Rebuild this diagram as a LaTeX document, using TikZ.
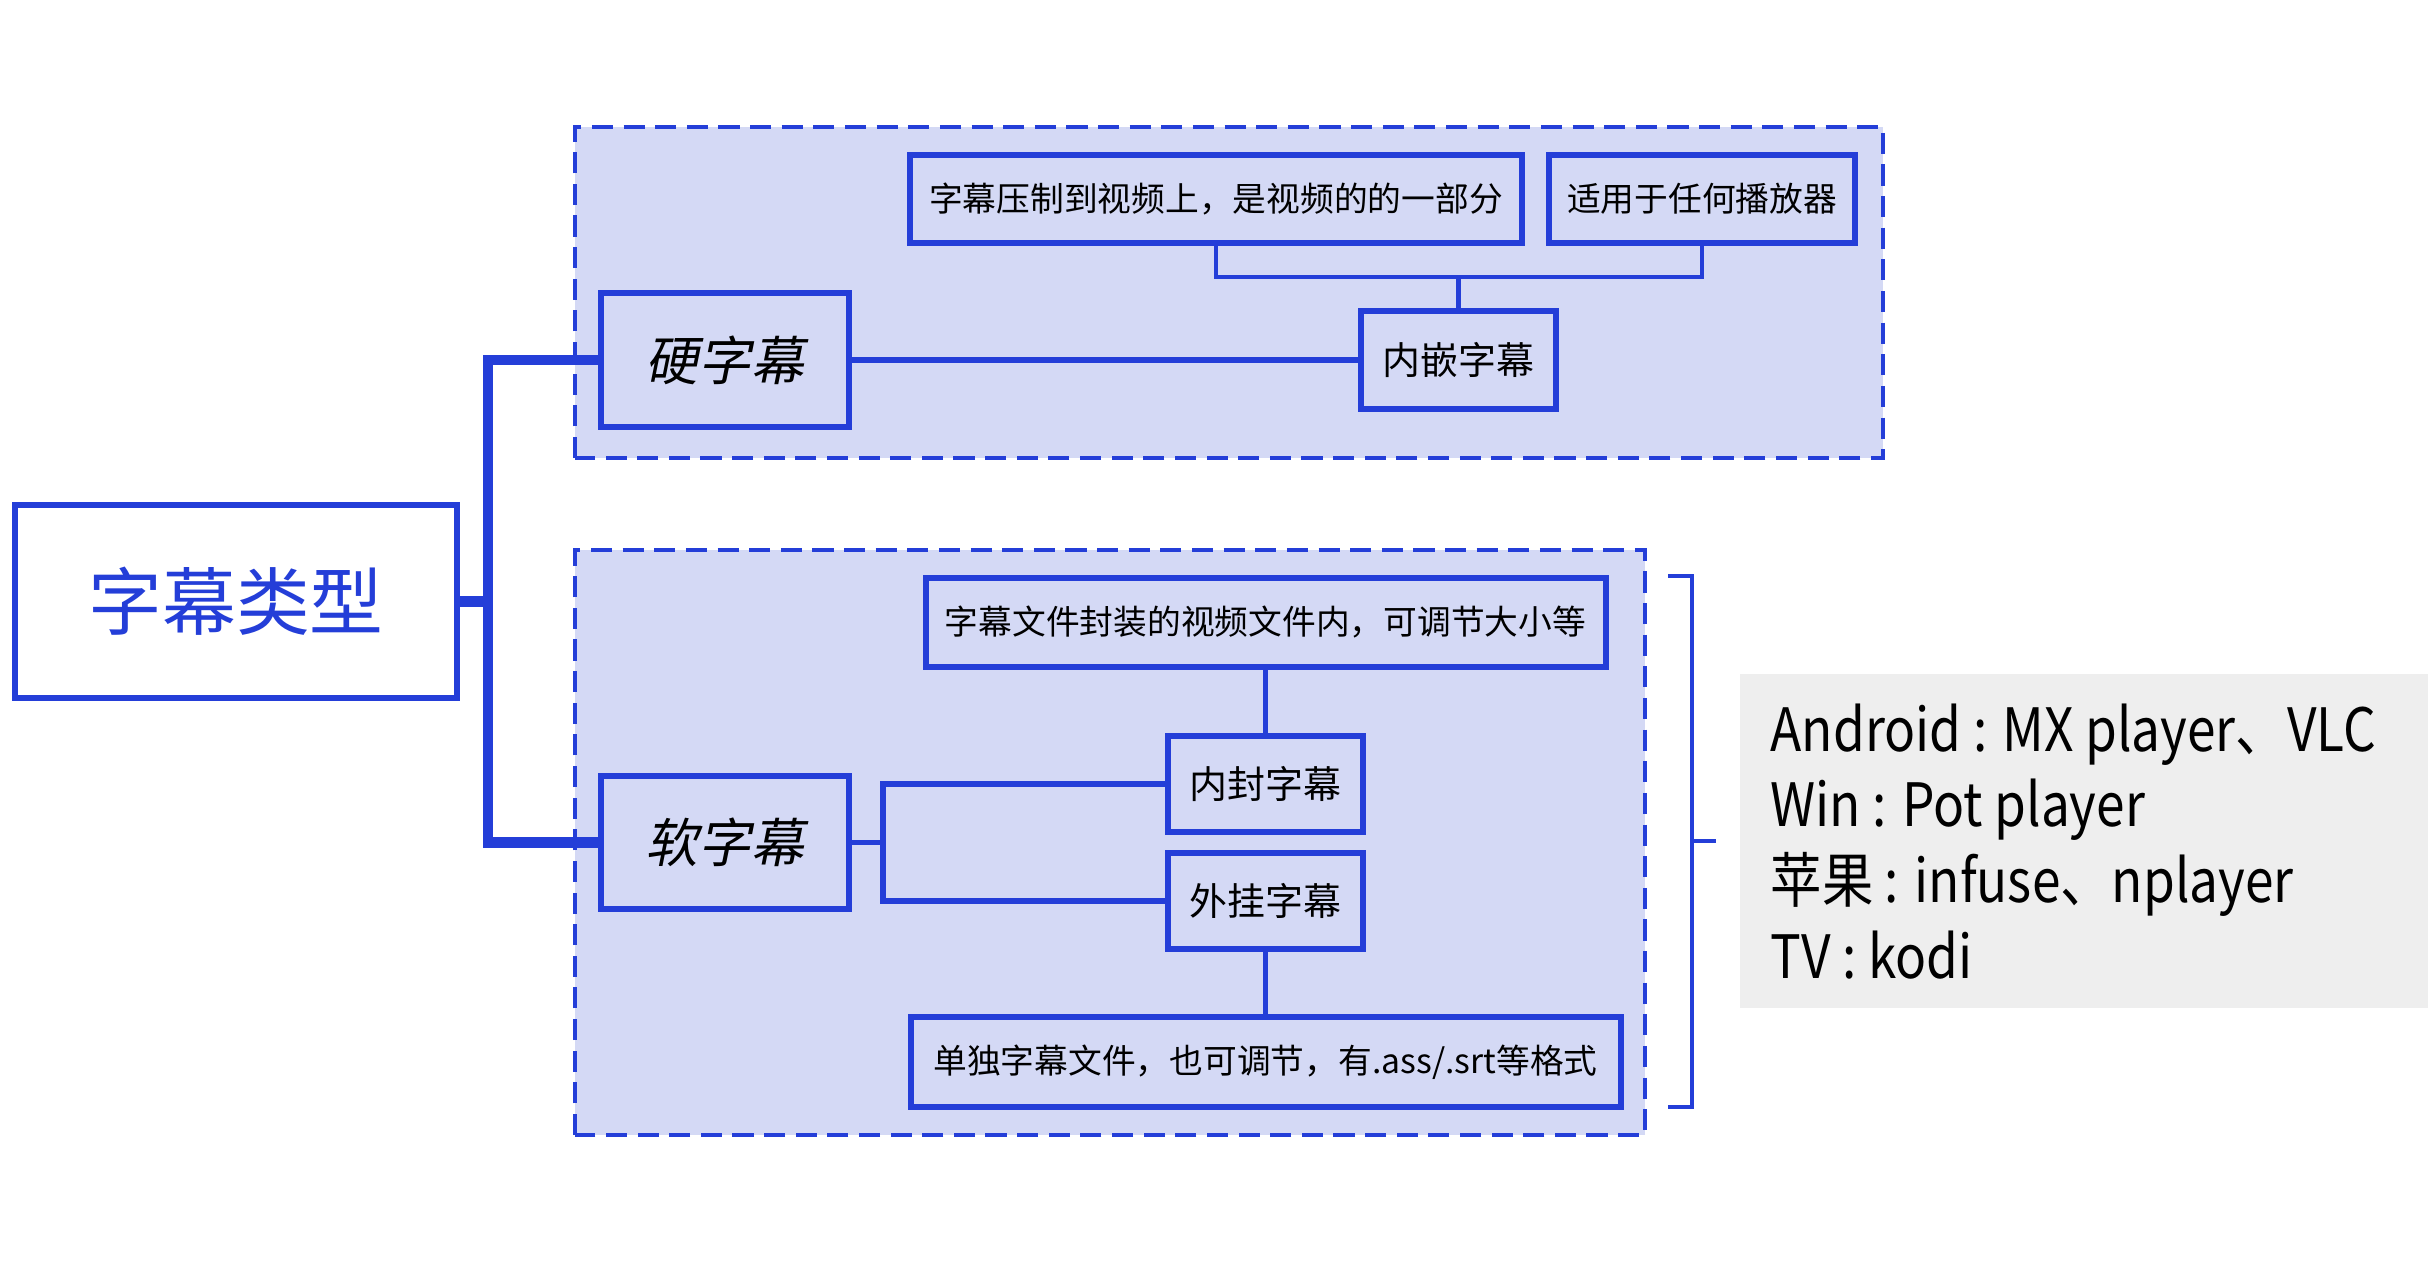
\documentclass[tikz,border=0pt]{standalone}
\usepackage{fontspec}
\setmainfont{Noto Sans CJK SC}
\newfontfamily\slantfont[FakeSlant=0.2]{Noto Sans CJK SC}
\newfontfamily\notefont[FakeStretch=0.86]{Noto Sans CJK SC}
\usetikzlibrary{positioning}
\definecolor{mapblue}{RGB}{36,62,216}
\definecolor{groupfill}{RGB}{212,217,245}
\definecolor{notegray}{RGB}{238,238,238}
\def\small{\fontsize{9.6}{12}\selectfont}

\begin{document}
\begin{tikzpicture}[
        topic/.style={draw=mapblue, line width=1.7pt, fill=groupfill, inner sep=0pt, font=\small},
        link/.style={mapblue, line width=1.2pt},
        group/.style={draw=mapblue, dash pattern=on 6pt off 3pt, line width=0.9pt, fill=groupfill}]
        \useasboundingbox (0,0) rectangle (24.28,12.66);
        % groups
        \draw[group] (5.75,8.08) rectangle (18.83,11.39);
        \draw[group] (5.75,1.31) rectangle (16.45,7.16);
        % root
        \node[draw=mapblue, line width=1.8pt, fill=white, minimum width=4.42cm, minimum height=1.93cm, text=mapblue, font=\fontsize{21}{24}\selectfont] (root) at (2.36, 6.645) {字幕类型};
        \node[topic, minimum width=2.48cm, minimum height=1.34cm, font=\slantfont\fontsize{15}{18}\selectfont] (hard) at (7.25, 9.06) {硬字幕};
        \node[topic, minimum width=2.48cm, minimum height=1.33cm, font=\slantfont\fontsize{15}{18}\selectfont] (soft) at (7.25, 4.235) {软字幕};
        % hard subtitles
        \node[topic, minimum width=1.95cm, minimum height=0.98cm, font=\fontsize{10.8}{13}\selectfont] (embed) at (14.585, 9.06) {内嵌字幕};
        \node[topic, minimum width=6.12cm, minimum height=0.88cm] (press) at (12.16, 10.67) {字幕压制到视频上，是视频的的一部分};
        \node[topic, minimum width=3.06cm, minimum height=0.88cm] (anyplayer) at (17.02, 10.67) {适用于任何播放器};
        \coordinate (hardbar) at (14.585, 9.89);
        \draw[link, line width=1.8pt] (hard) -- (embed);
        \draw[link] (press.south) -- (press.south |- hardbar) -- (anyplayer.south |- hardbar) -- (anyplayer.south);
        \draw[link] (embed.north) -- (embed.north |- hardbar);
        % soft subtitles
        \node[topic, minimum width=1.95cm, minimum height=0.96cm, font=\fontsize{10.8}{13}\selectfont] (inner) at (12.655, 4.82) {内封字幕};
        \node[topic, minimum width=1.95cm, minimum height=0.96cm, font=\fontsize{10.8}{13}\selectfont] (outer) at (12.655, 3.65) {外挂字幕};
        \node[topic, minimum width=6.80cm, minimum height=0.89cm] (pack) at (12.655, 6.435) {字幕文件封装的视频文件内，可调节大小等};
        \node[topic, minimum width=7.10cm, minimum height=0.90cm] (single) at (12.655, 2.04) {单独字幕文件，也可调节，有.ass/.srt等格式};
        \draw[link] (pack) -- (inner);
        \draw[link] (outer) -- (single);
        \draw[link] (soft.east) -- ++(0.31,0) coordinate (softsplit);
        \draw[link, line width=1.6pt] (inner.west) -| (softsplit) |- (outer.west);
        % root connectors
        \draw[mapblue, line width=3pt] (root.east) -- ++(0.28,0) coordinate (rootsplit);
        \draw[mapblue, line width=3pt] (hard.west) -| (rootsplit) |- (soft.west);
        % players
        \draw[mapblue, line width=1pt] (16.68,6.90) -- (16.92,6.90) -- (16.92,1.59) -- (16.68,1.59);
        \draw[mapblue, line width=1pt] (16.92,4.25) -- (17.16,4.25);
        \fill[notegray] (17.40,2.58) rectangle (24.28,5.92);
        \node[anchor=west, align=left, inner sep=0pt, font=\notefont\fontsize{17}{21.6}\selectfont] (players) at (17.70, 4.245) {Android : MX player、VLC\\Win : Pot player\\苹果 : infuse、nplayer\\TV : kodi};
\end{tikzpicture}
\end{document}
